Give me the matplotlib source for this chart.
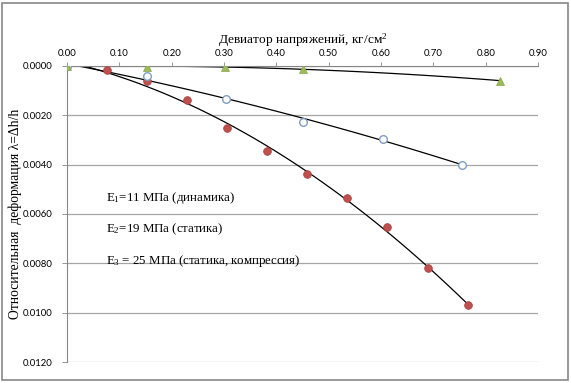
import matplotlib.pyplot as plt
import numpy as np
from matplotlib.patches import Rectangle

FONT_SIZE = 6.9
SANS = ['Lato', 'DejaVu Sans']
SERIF = ['Liberation Serif', 'DejaVu Serif']

# E3 static (compression) - red filled circles
x_red = np.array([0.0, 0.076, 0.153, 0.229, 0.306, 0.382, 0.459, 0.535, 0.612, 0.690, 0.766])
y_red = np.array([0.0, 0.00016, 0.00061, 0.00138, 0.00252, 0.00345, 0.00438, 0.00535, 0.00653, 0.0082, 0.0097])
# E2 static - blue open circles
x_blue = np.array([0.0, 0.153, 0.304, 0.451, 0.604, 0.755])
y_blue = np.array([0.0, 0.0004, 0.00134, 0.00227, 0.00296, 0.0040])
# E1 dynamic - green triangles
x_green = np.array([0.0, 0.153, 0.302, 0.451, 0.828])
y_green = np.array([0.0, 0.00004, 0.00004, 0.00012, 0.0006])

labels = ['E$_1$=11 МПа (динамика)',
          'E$_2$=19 МПа (статика)',
          'E$_3$ = 25 МПа (статика, компрессия)']

plt.rcParams['mathtext.fontset'] = 'custom'
plt.rcParams['mathtext.rm'] = 'Liberation Serif'
plt.rcParams['mathtext.it'] = 'Liberation Serif'

fig = plt.figure(figsize=(5.71, 3.83), dpi=100)
ax = fig.add_axes([0.1173, 0.0548, 0.825, 0.773])

# trend lines (2nd order polynomial, like Excel)
for xs, ys in [(x_red, y_red), (x_blue, y_blue), (x_green, y_green)]:
    c = np.polyfit(xs, ys, 2)
    xx = np.linspace(xs.min(), xs.max(), 100)
    ax.plot(xx, np.polyval(c, xx), color='black', linewidth=0.9, zorder=2)

ax.plot(x_red, y_red, 'o', markersize=5.5, color='#C0504D', markeredgecolor='#A84442',
        markeredgewidth=0.6, zorder=3)
ax.plot(x_blue, y_blue, 'o', markersize=5.5, markerfacecolor='white', markeredgecolor='#7F9DC6',
        markeredgewidth=1, zorder=3)
ax.plot(x_green, y_green, '^', markersize=5.5, color='#9BBB59', markeredgecolor='#86A447',
        markeredgewidth=0.5, zorder=4)

ax.set_xlim(0, 0.9)
ax.set_ylim(0.012, 0)
ax.set_xticks(np.arange(0, 0.91, 0.1))
ax.set_yticks(np.arange(0, 0.0121, 0.002))
ax.xaxis.tick_top()
ax.xaxis.set_label_position('top')
ax.set_xticklabels(['%.2f' % v for v in np.arange(0, 0.91, 0.1)], fontsize=FONT_SIZE, family=SANS)
ax.set_yticklabels(['%.4f' % v for v in np.arange(0, 0.0121, 0.002)], fontsize=FONT_SIZE, family=SANS)
ax.tick_params(axis='x', length=3, width=0.6, color='#868686', pad=2.5)
ax.tick_params(axis='y', length=3.6, width=0.6, color='#868686', pad=6.5)
ax.grid(axis='y', color='#A6A6A6', linewidth=0.9)
ax.set_axisbelow(True)
for s in ['right', 'bottom']:
    ax.spines[s].set_visible(False)
ax.spines['top'].set_color('#868686')
ax.spines['left'].set_color('#868686')
ax.spines['top'].set_linewidth(0.8)
ax.spines['left'].set_linewidth(0.8)

ax.set_xlabel('Девиатор напряжений, кг/см$^2$', fontsize=9.6, family=SERIF, labelpad=4)
ax.set_ylabel('Относительная  деформация λ=Δh/h', fontsize=9.8, family=SERIF, labelpad=1)

for i, t in enumerate(labels):
    ax.text(0.074, 0.00535 + i * 0.00127, t, fontsize=9.3, family=SERIF, va='center')

fig.patches.append(Rectangle((0.004, 0.008), 0.99, 0.985, transform=fig.transFigure,
                             fill=False, edgecolor='#878787', linewidth=1.2))

plt.savefig('out.png')
